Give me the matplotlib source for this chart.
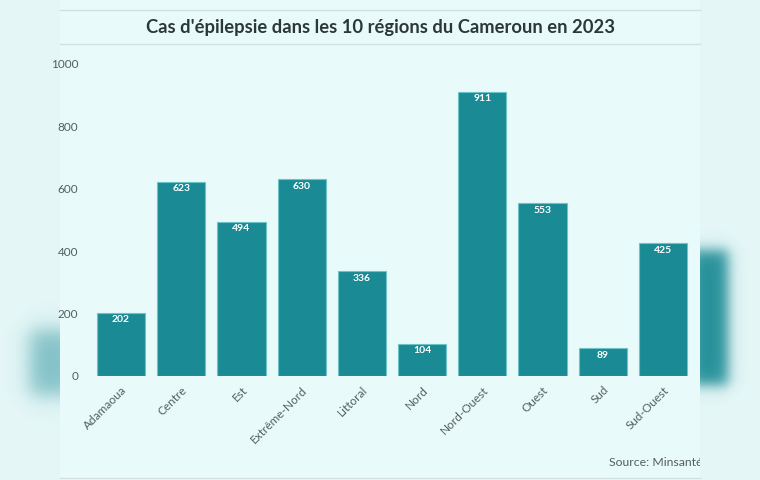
import numpy as np
import matplotlib.pyplot as plt
from matplotlib.patches import Rectangle
from matplotlib.transforms import Bbox, TransformedBbox

regions = ['Adamaoua', 'Centre', 'Est', 'Extrême-Nord', 'Littoral',
           'Nord', 'Nord-Ouest', 'Ouest', 'Sud', 'Sud-Ouest']
cases = [202, 623, 494, 630, 336, 104, 911, 553, 89, 425]
y_ticks = [0, 200, 400, 600, 800, 1000]

plt.rcParams['font.family'] = ['Lato', 'DejaVu Sans']

fig = plt.figure(figsize=(7.6, 4.8), dpi=100, facecolor='#e4f6f6')

# background: blurred shapes, panel and separator lines, in pixel coordinates
bg = fig.add_axes([0, 0, 1, 1], zorder=-1)
bg.set_xlim(0, 760)
bg.set_ylim(480, 0)
bg.axis('off')

px, py = np.meshgrid(np.arange(760) + 0.5, np.arange(480) + 0.5)


def soft_box(x0, x1, y0, y1, s):
    fx = 1 / (1 + np.exp(-(px - x0) / s)) / (1 + np.exp((px - x1) / s))
    fy = 1 / (1 + np.exp(-(py - y0) / s)) / (1 + np.exp((py - y1) / s))
    return fx * fy


alpha = np.clip(soft_box(690, 728, 250, 385, 4) * 0.95 + soft_box(30, 75, 330, 395, 6) * 0.5, 0, 1)
img = np.zeros((480, 760, 4))
img[..., 0] = 0x1a / 255
img[..., 1] = 0x8a / 255
img[..., 2] = 0x94 / 255
img[..., 3] = alpha
bg.imshow(img, extent=(0, 760, 480, 0), aspect='auto', zorder=0)

bg.add_patch(Rectangle((60, 0), 640, 480, facecolor='#e8fbfa', edgecolor='none', zorder=1))
for y in [10, 44, 478]:
    bg.plot([60, 700], [y, y], color='#d3dfdf', linewidth=1, zorder=2)
bg.text(380, 28, "Cas d'épilepsie dans les 10 régions du Cameroun en 2023",
        ha='center', va='center', fontsize=13.2, fontweight='bold', color='#2c3838', zorder=3)
# source line is cut off at the panel's right edge in the original
src = bg.text(609, 463, 'Source: Minsanté', ha='left', va='center',
              fontsize=8.8, color='#555e5e', zorder=3, clip_on=True)
src.set_clip_box(TransformedBbox(Bbox([[60, 0], [700, 480]]), bg.transData))

ax = fig.add_axes([91 / 760, 1 - 376 / 480, 602 / 760, 312 / 480])
ax.set_facecolor('none')

x = range(len(regions))
ax.bar(x, cases, width=0.8, color='#1a8a94', edgecolor='#6cc4c8', linewidth=0.8)
for xi, v in zip(x, cases):
    ax.text(xi, v - 8, str(v), ha='center', va='top', color='white',
            fontsize=7.5, fontweight='bold')

ax.set_xlim(-0.5, len(regions) - 0.5)
ax.set_ylim(0, 1000)
ax.set_yticks(y_ticks)
ax.set_yticklabels([str(t) for t in y_ticks])
ax.set_xticks(list(x))
ax.set_xticklabels(regions, rotation=45, ha='right', rotation_mode='anchor')
ax.tick_params(axis='both', length=0, labelsize=8.5, labelcolor='#555e5e')
ax.tick_params(axis='y', pad=9)
ax.tick_params(axis='x', pad=6)
for s in ax.spines.values():
    s.set_visible(False)

fig.savefig('out.png', dpi=100, facecolor=fig.get_facecolor())
